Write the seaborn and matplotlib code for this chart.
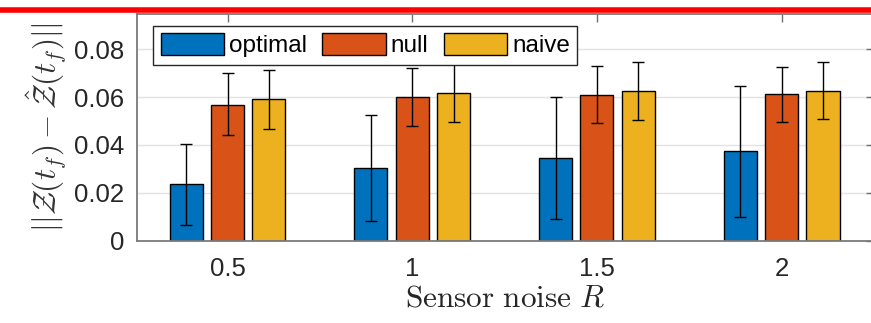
import matplotlib
matplotlib.use("Agg")
import matplotlib.pyplot as plt
import seaborn as sns
import pandas as pd
import numpy as np
from matplotlib.lines import Line2D

# ---- data ----
noise_levels = ["0.5", "1", "1.5", "2"]
methods = ["optimal", "null", "naive"]
optimal_mean = [0.0236, 0.0305, 0.0346, 0.0374]
optimal_lo = [0.0063, 0.0082, 0.0090, 0.0098]
optimal_hi = [0.0403, 0.0524, 0.0599, 0.0648]
null_mean = [0.0569, 0.0599, 0.0608, 0.0612]
null_lo = [0.0443, 0.0478, 0.0492, 0.0495]
null_hi = [0.0699, 0.0720, 0.0729, 0.0727]
naive_mean = [0.0594, 0.0616, 0.0624, 0.0626]
naive_lo = [0.0468, 0.0495, 0.0503, 0.0508]
naive_hi = [0.0714, 0.0737, 0.0746, 0.0746]
y_ticks = [0, 0.02, 0.04, 0.06, 0.08]
y_tick_labels = ["0", "0.02", "0.04", "0.06", "0.08"]
colors = ["#0072BD", "#D95319", "#EDB120"]

means = {"optimal": optimal_mean, "null": null_mean, "naive": naive_mean}
los = {"optimal": optimal_lo, "null": null_lo, "naive": naive_lo}
his = {"optimal": optimal_hi, "null": null_hi, "naive": naive_hi}

rows = []
for m in methods:
    for i, r in enumerate(noise_levels):
        rows.append({"R": r, "method": m, "value": means[m][i]})
df = pd.DataFrame(rows)

sns.set_style("white")
plt.rcParams["font.family"] = ["Liberation Sans", "DejaVu Sans"]
plt.rcParams["mathtext.fontset"] = "cm"

fig = plt.figure(figsize=(8.71, 3.23), dpi=100)
W, H = 871, 323
ax_left, ax_right, ax_top, ax_bottom = 137, 874, 14, 240.5
ax = fig.add_axes([ax_left / W, 1 - ax_bottom / H, (ax_right - ax_left) / W, (ax_bottom - ax_top) / H])

sns.barplot(data=df, x="R", y="value", hue="method", order=noise_levels,
            hue_order=methods, palette=colors, width=0.672, gap=0.2,
            edgecolor="black", linewidth=1.0, errorbar=None, saturation=1,
            ax=ax, zorder=2)

# error bars
for m, cont in zip(methods, ax.containers):
    xs = [b.get_x() + b.get_width() / 2 for b in cont]
    ys = np.array(means[m])
    lo = ys - np.array(los[m])
    hi = np.array(his[m]) - ys
    ax.errorbar(xs, ys, yerr=[lo, hi], fmt="none", ecolor="black",
                elinewidth=1.0, capsize=4.5, capthick=1.0, zorder=3)

ax.set_xlim(-0.49, 3.5)
ax.set_ylim(0, 0.0948)
ax.set_yticks(y_ticks)
ax.set_yticklabels(y_tick_labels)

for y in y_ticks[1:]:
    ax.axhline(y, color="#e3e3e3", lw=1.0, zorder=0.5)

ax.tick_params(axis="both", direction="in", length=6, width=1, color="#707070",
               labelsize=18.5, labelcolor="#262626", top=True, right=True)
ax.tick_params(axis="y", pad=9)
ax.tick_params(axis="x", pad=12)
for s in ax.spines.values():
    s.set_color("#7a7a7a")
    s.set_linewidth(1.3)
    s.set_visible(True)

ax.set_xlabel(r"$\mathrm{Sensor\ noise}\ R$", fontsize=22.5, color="#262626", labelpad=2)
ax.set_ylabel("")
fig.text(46 / W, 1 - 127.5 / H, r"$||\mathcal{Z}(t_f) - \hat{\mathcal{Z}}(t_f)||$",
         rotation=90, ha="center", va="center", fontsize=22.5, color="#333333")

handles = list(ax.containers)
leg = ax.legend(handles, methods, loc="upper left",
                bbox_to_anchor=(153.3 / W, 1 - 26 / H), bbox_transform=fig.transFigure,
                ncol=3, fontsize=17.5, frameon=True, fancybox=False, framealpha=1,
                edgecolor="#262626", handlelength=2.6, handleheight=1.0,
                handletextpad=0.2, columnspacing=0.65, borderpad=0.3,
                borderaxespad=0)
leg.get_frame().set_linewidth(1.0)
for t in leg.get_texts():
    t.set_color("#000000")

# red line across top of the image
fig.add_artist(Line2D([0, 1], [1 - 10 / H, 1 - 10 / H], transform=fig.transFigure,
                      color="#ff0000", lw=4.0))

fig.savefig("out.png", dpi=100)
